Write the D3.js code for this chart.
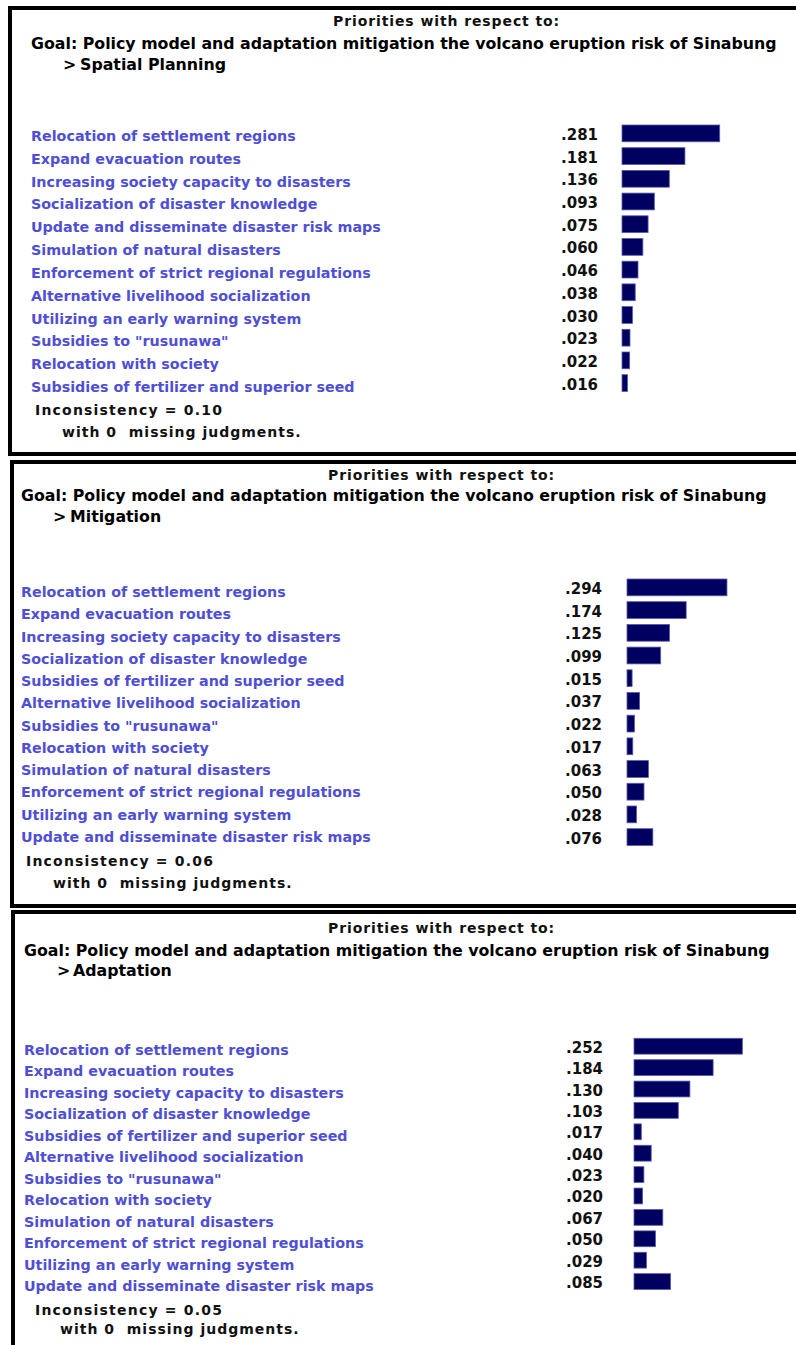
<!DOCTYPE html>
<html>
<head>
<meta charset="utf-8">
<script src="https://cdn.jsdelivr.net/npm/d3@7"></script>
<style>
  body { margin: 0; background: #fff; }
  svg text { font-weight: bold; font-family: "DejaVu Sans", Verdana, sans-serif; }
</style>
</head>
<body>
<script>
// ---- data ----
const goalText = "Goal: Policy model and adaptation mitigation the volcano eruption risk of Sinabung";
const headerText = "Priorities with respect to:";
const panelNames = ["Spatial Planning", "Mitigation", "Adaptation"];
const inconsistency = ["0.10", "0.06", "0.05"];

const spatialLabels = [
  "Relocation of settlement regions", "Expand evacuation routes",
  "Increasing society capacity to disasters", "Socialization of disaster knowledge",
  "Update and disseminate disaster risk maps", "Simulation of natural disasters",
  "Enforcement of strict regional regulations", "Alternative livelihood socialization",
  "Utilizing an early warning system", "Subsidies to \"rusunawa\"",
  "Relocation with society", "Subsidies of fertilizer and superior seed"
];
const spatialValues = [0.281, 0.181, 0.136, 0.093, 0.075, 0.060, 0.046, 0.038, 0.030, 0.023, 0.022, 0.016];

const otherLabels = [
  "Relocation of settlement regions", "Expand evacuation routes",
  "Increasing society capacity to disasters", "Socialization of disaster knowledge",
  "Subsidies of fertilizer and superior seed", "Alternative livelihood socialization",
  "Subsidies to \"rusunawa\"", "Relocation with society",
  "Simulation of natural disasters", "Enforcement of strict regional regulations",
  "Utilizing an early warning system", "Update and disseminate disaster risk maps"
];
const mitigationValues = [0.294, 0.174, 0.125, 0.099, 0.015, 0.037, 0.022, 0.017, 0.063, 0.050, 0.028, 0.076];
const adaptationValues = [0.252, 0.184, 0.130, 0.103, 0.017, 0.040, 0.023, 0.020, 0.067, 0.050, 0.029, 0.085];

// ---- layout (pixels) for each panel ----
const layout = [
  { box: [10, 8, 800, 454], head: [333, 26], goal: [31, 49], sub: [63, 80, 70],
    labelX: 31, labelY: [141, 392], valueX: 561, barX: 622, barY: [125, 391.5], barMax: 347.7,
    incX: 35, incY: 415, withX: 62, withY: 437 },
  { box: [12, 462, 800, 906], head: [328, 480], goal: [21, 501], sub: [53, 70, 522],
    labelX: 21, labelY: [597, 842], valueX: 565, barX: 627, barY: [579, 845.5], barMax: 340,
    incX: 26, incY: 866, withX: 53, withY: 888 },
  { box: [13, 912, 800, 1360], head: [328, 933], goal: [24, 956], sub: [57, 73, 976],
    labelX: 24, labelY: [1055, 1291], valueX: 566, barX: 634, barY: [1038.3, 1289.5], barMax: 430,
    incX: 35, incY: 1315, withX: 60, withY: 1334 }
];

const panels = [
  { labels: spatialLabels, values: spatialValues },
  { labels: otherLabels, values: mitigationValues },
  { labels: otherLabels, values: adaptationValues }
];

const WIDTH = 796, HEIGHT = 1345;
const LABEL_COLOR = "#4f4fd6";
const BAR_COLOR = "#000060";
const fmt = v => d3.format(".3f")(v).replace(/^0/, "");

const svg = d3.select("body").append("svg")
  .attr("width", WIDTH)
  .attr("height", HEIGHT);

panels.forEach((p, k) => {
  const L = layout[k];
  const g = svg.append("g");

  // frame
  g.append("rect")
    .attr("x", L.box[0]).attr("y", L.box[1])
    .attr("width", L.box[2] - L.box[0]).attr("height", L.box[3] - L.box[1])
    .attr("fill", "#fff").attr("stroke", "#000").attr("stroke-width", 4);

  // heading lines
  g.append("text").text(headerText)
    .attr("x", L.head[0]).attr("y", L.head[1])
    .attr("font-size", 14).attr("letter-spacing", 0.9).attr("fill", "#111");

  g.append("text").text(goalText)
    .attr("x", L.goal[0]).attr("y", L.goal[1])
    .attr("font-size", 15.8).attr("fill", "#000");

  g.append("text").text(">")
    .attr("x", L.sub[0]).attr("y", L.sub[2])
    .attr("font-size", 15.8).attr("fill", "#000");
  g.append("text").text(panelNames[k])
    .attr("x", L.sub[1]).attr("y", L.sub[2])
    .attr("font-size", 15.8).attr("fill", "#000");

  // scales
  const idx = d3.range(p.values.length);
  const yBar = d3.scaleBand().domain(idx).range(L.barY).paddingInner(0.26).paddingOuter(0);
  const yLab = d3.scalePoint().domain(idx).range(L.labelY);
  const x = d3.scaleLinear().domain([0, 1]).range([0, L.barMax]);

  g.selectAll(".lab").data(p.labels).enter().append("text")
    .attr("class", "lab")
    .attr("x", L.labelX)
    .attr("y", (d, i) => yLab(i))
    .attr("font-size", 14.3)
    .attr("fill", LABEL_COLOR)
    .text(d => d);

  g.selectAll(".val").data(p.values).enter().append("text")
    .attr("class", "val")
    .attr("x", L.valueX)
    .attr("y", (d, i) => yBar(i) + yBar.bandwidth() / 2 + 6.5)
    .attr("font-size", 15)
    .attr("fill", "#111")
    .text(fmt);

  g.selectAll(".bar").data(p.values).enter().append("rect")
    .attr("class", "bar")
    .attr("x", L.barX)
    .attr("y", (d, i) => yBar(i))
    .attr("width", d => x(d))
    .attr("height", yBar.bandwidth())
    .attr("fill", BAR_COLOR)
    .attr("stroke", "#5a5aa8")
    .attr("stroke-width", 0.8);

  // footer
  g.append("text").text("Inconsistency = " + inconsistency[k])
    .attr("x", L.incX).attr("y", L.incY)
    .attr("font-size", 14).attr("letter-spacing", 1.2).attr("fill", "#111");

  g.append("text").text("with 0  missing judgments.")
    .attr("x", L.withX).attr("y", L.withY)
    .attr("font-size", 14).attr("letter-spacing", 1).attr("fill", "#111")
    .attr("xml:space", "preserve");
});
</script>
</body>
</html>
